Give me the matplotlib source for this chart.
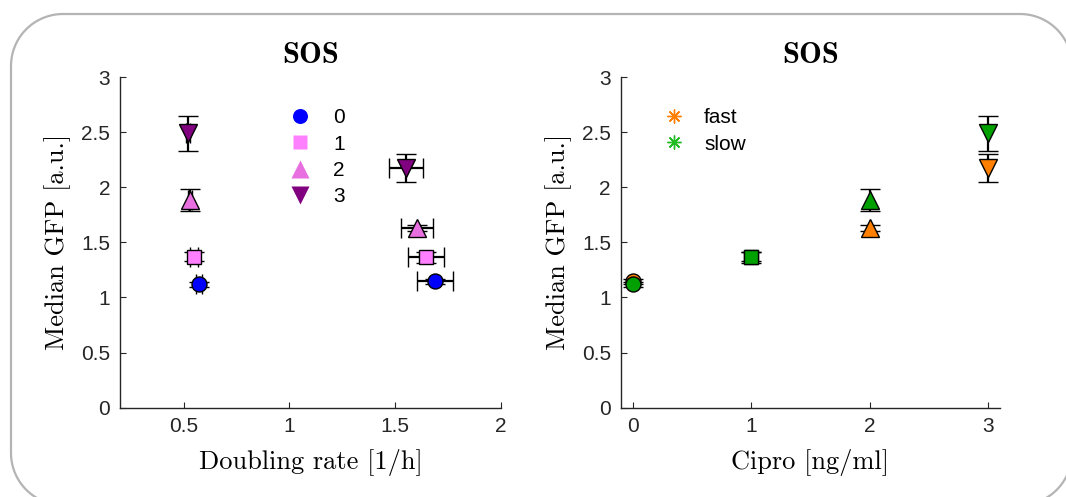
import matplotlib
matplotlib.use("Agg")
import numpy as np
import matplotlib.pyplot as plt
from matplotlib.lines import Line2D
from matplotlib.transforms import IdentityTransform

plt.rcParams['mathtext.fontset'] = 'cm'
plt.rcParams['font.family'] = ['Liberation Sans', 'DejaVu Sans']

# ---- data ----
levels = ['0', '1', '2', '3']
cipro = [0, 1, 2, 3]
slow_rate = [0.574, 0.550, 0.531, 0.523]
slow_rate_err = [0.015, 0.02, 0.01, 0.01]
slow_gfp = [1.12, 1.37, 1.88, 2.49]
slow_gfp_err = [0.023, 0.038, 0.10, 0.16]
fast_rate = [1.689, 1.647, 1.603, 1.552]
fast_rate_err = [0.084, 0.085, 0.075, 0.079]
fast_gfp = [1.145, 1.363, 1.63, 2.175]
fast_gfp_err = [0.02, 0.05, 0.03, 0.125]

level_colors = ['#0000FF', '#FF80FF', '#E86FE0', '#800080']
markers = ['o', 's', '^', 'v']
msizes = [10.8, 9.8, 13, 13]
fast_color = '#FF8000'
slow_color = '#00A000'
yticks = [0, 0.5, 1, 1.5, 2, 2.5, 3]
ytick_labels = ['0', '0.5', '1', '1.5', '2', '2.5', '3']
left_xticks = [0.5, 1, 1.5, 2]
left_xtick_labels = ['0.5', '1', '1.5', '2']
right_xticks = [0, 1, 2, 3]
right_xtick_labels = ['0', '1', '2', '3']

W, H = 1066, 497
fig = plt.figure(figsize=(W / 100, H / 100), dpi=100)

axcol = '#262626'
bottom = (H - 407.7) / H
height = (407.7 - 77) / H
ax1 = fig.add_axes([120 / W, bottom, 381 / W, height])
ax2 = fig.add_axes([620.7 / W, bottom, 379.3 / W, height])

ekw = dict(ecolor='black', elinewidth=1.6, capsize=7.2, capthick=1.6,
           linestyle='none', markeredgecolor='black', markeredgewidth=1.0)

for i in range(4):
    for xs, xe, ys, ye in [(slow_rate, slow_rate_err, slow_gfp, slow_gfp_err),
                           (fast_rate, fast_rate_err, fast_gfp, fast_gfp_err)]:
        ax1.errorbar(xs[i], ys[i], yerr=ye[i], xerr=xe[i], marker=markers[i],
                     markersize=msizes[i], markerfacecolor=level_colors[i],
                     zorder=3, **ekw)

for i in range(4):
    ax2.errorbar(cipro[i], fast_gfp[i], yerr=fast_gfp_err[i], marker=markers[i],
                 markersize=msizes[i], markerfacecolor=fast_color, zorder=3, **ekw)
for i in range(4):
    ax2.errorbar(cipro[i], slow_gfp[i], yerr=slow_gfp_err[i], marker=markers[i],
                 markersize=msizes[i], markerfacecolor=slow_color, zorder=4, **ekw)

for ax, xl, xt, xtl, xlab in [
        (ax1, (0.2, 2), left_xticks, left_xtick_labels, 'Doubling rate [1/h]'),
        (ax2, (-0.1, 3.1), right_xticks, right_xtick_labels, 'Cipro [ng/ml]')]:
    ax.set_xlim(*xl)
    ax.set_ylim(0, 3)
    ax.set_xticks(xt)
    ax.set_xticklabels(xtl)
    ax.set_yticks(yticks)
    ax.set_yticklabels(ytick_labels)
    for s in ['top', 'right']:
        ax.spines[s].set_visible(False)
    for s in ['left', 'bottom']:
        ax.spines[s].set_color(axcol)
        ax.spines[s].set_linewidth(1.0)
    ax.tick_params(direction='in', length=4, width=0.8, colors=axcol,
                   labelsize=15, labelcolor=axcol, pad=7)
    ax.set_xlabel(xlab, fontsize=19, labelpad=9, family='cmr10')
    ax.set_ylabel('Median GFP [a.u.]', fontsize=19, labelpad=7, family='cmr10')
    ax.set_title('SOS', fontsize=22, pad=10, family='cmb10')

h1 = [Line2D([], [], linestyle='none', marker=markers[i], markersize=msizes[i],
             markerfacecolor=level_colors[i], markeredgecolor='none')
      for i in range(4)]
ax1.legend(h1, levels, loc='upper left', bbox_to_anchor=(0.445, 0.905),
           frameon=False, fontsize=15, handlelength=1.0, handletextpad=1.1,
           labelspacing=0.35, borderpad=0, borderaxespad=0)

h2 = [Line2D([], [], linestyle='none', marker=(8, 2, 0), markersize=10,
             markeredgewidth=1.0, color=c) for c in [fast_color, '#22BB22']]
ax2.legend(h2, ['fast', 'slow'], loc='upper left', bbox_to_anchor=(0.113, 0.905),
           frameon=False, fontsize=15, handlelength=1.0, handletextpad=0.95,
           labelspacing=0.35, borderpad=0, borderaxespad=0)

# rounded border (pixel coordinates, origin bottom-left)
x0, x1 = 11, 1072
ytop, ybot = H - 14, -8
r = 52
t = np.linspace(0, np.pi / 2, 30)
pts = []
pts += list(zip(x1 - r + r * np.cos(t), ytop - r + r * np.sin(t)))
pts += list(zip(x0 + r - r * np.sin(t), ytop - r + r * np.cos(t)))
pts += list(zip(x0 + r - r * np.cos(t), ybot + r - r * np.sin(t)))
pts += list(zip(x1 - r + r * np.sin(t), ybot + r - r * np.cos(t)))
pts.append(pts[0])
bx, by = zip(*pts)
fig.add_artist(Line2D(bx, by, transform=IdentityTransform(), color='#b4b4b4',
                      linewidth=1.6, zorder=0))

fig.savefig('out.png', dpi=100)
